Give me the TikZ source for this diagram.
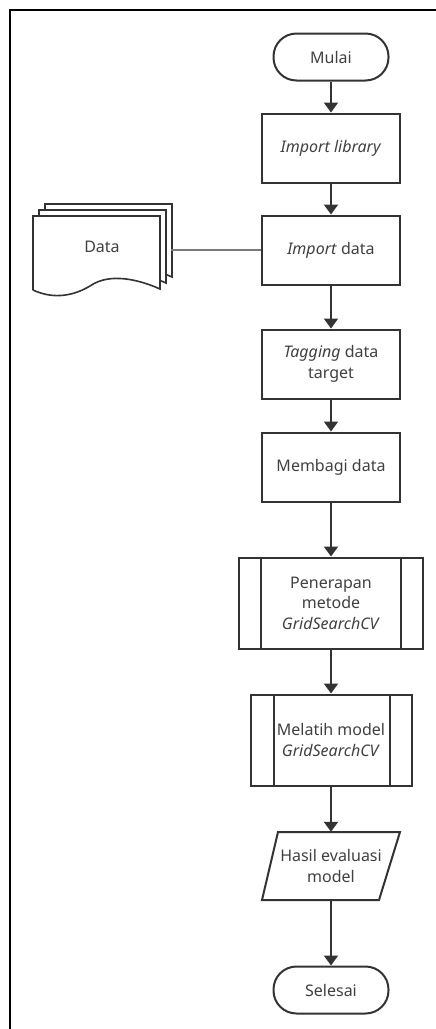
\documentclass[tikz,border=0pt]{standalone}
\usepackage{fontspec}
\setmainfont{Noto Sans}
\usetikzlibrary{arrows.meta}
\definecolor{ink}{HTML}{333333}
\definecolor{txt}{HTML}{404040}
\definecolor{linkgrey}{HTML}{7A7A7A}
\begin{document}
\begin{tikzpicture}[x=1pt,y=-1pt,
  every node/.style={font=\fontsize{16}{20.5}\selectfont, text=txt, align=center, inner sep=0pt},
  shapeline/.style={draw=ink, line width=2pt},
  terminal/.style={shapeline, rounded corners=23pt, minimum width=115pt, minimum height=47pt},
  procbox/.style={shapeline, minimum width=138pt, minimum height=69pt},
  predef/.style={shapeline, minimum height=91pt},
  flow/.style={draw=ink, line width=2pt, -{Triangle[width=14pt,length=10pt]}},
  datalink/.style={draw=linkgrey, line width=1.3pt}
]
\useasboundingbox (0,0) rectangle (436,1029);
\draw[black, line width=2pt] (436,10) -- (10,10) -- (10,1029);

\node[terminal] (mulai) at (331,57) {Mulai};
\node[procbox] (lib) at (331,148) {\textit{Import library}};
\node[procbox] (imp) at (331,250) {\textit{Import} data};
\node[procbox] (tag) at (331,364) {\textit{Tagging} data\\target};
\node[procbox] (bagi) at (331,467) {Membagi data};
\node[predef, minimum width=184pt] (pen) at (331,603) {Penerapan\\metode\\\textit{GridSearchCV}};
\draw[shapeline] ([xshift=23pt]pen.north west) -- ([xshift=23pt]pen.south west);
\draw[shapeline] ([xshift=-23pt]pen.north east) -- ([xshift=-23pt]pen.south east);
\node[predef, minimum width=161pt] (latih) at (331,740) {Melatih model\\\textit{GridSearchCV}};
\draw[shapeline] ([xshift=24pt]latih.north west) -- ([xshift=24pt]latih.south west);
\draw[shapeline] ([xshift=-23pt]latih.north east) -- ([xshift=-23pt]latih.south east);
\node[minimum width=120pt, minimum height=68pt] (hasil) at (331,866) {Hasil evaluasi\\model};
\draw[shapeline, line join=miter] (262,900) -- (379,900) -- (400,832) -- (278,832) -- cycle;
\node[terminal] (selesai) at (331,990) {Selesai};

% Data document stack
\foreach \d in {12,6,0}{
  \draw[shapeline, fill=white, line width=1.6pt] (33+\d,290-\d) -- (33+\d,216-\d) -- (160+\d,216-\d) -- (160+\d,289-\d)
    .. controls (140+\d,280-\d) and (110+\d,272-\d) .. (90+\d,286-\d)
    .. controls (70+\d,298-\d) and (50+\d,298-\d) .. (33+\d,290-\d);
}
\node[minimum width=127pt, minimum height=56pt] (data) at (102,247) {Data};
\coordinate (dataedge) at (171,250);

\draw[datalink] (dataedge) -- (imp.west);
\draw[flow] (mulai) -- (lib);
\draw[flow] (lib) -- (imp);
\draw[flow] (imp) -- (tag);
\draw[flow] (tag) -- (bagi);
\draw[flow] (bagi) -- (pen);
\draw[flow] (pen) -- (latih);
\draw[flow] (latih) -- (hasil);
\draw[flow] (hasil) -- (selesai);
\end{tikzpicture}
\end{document}
